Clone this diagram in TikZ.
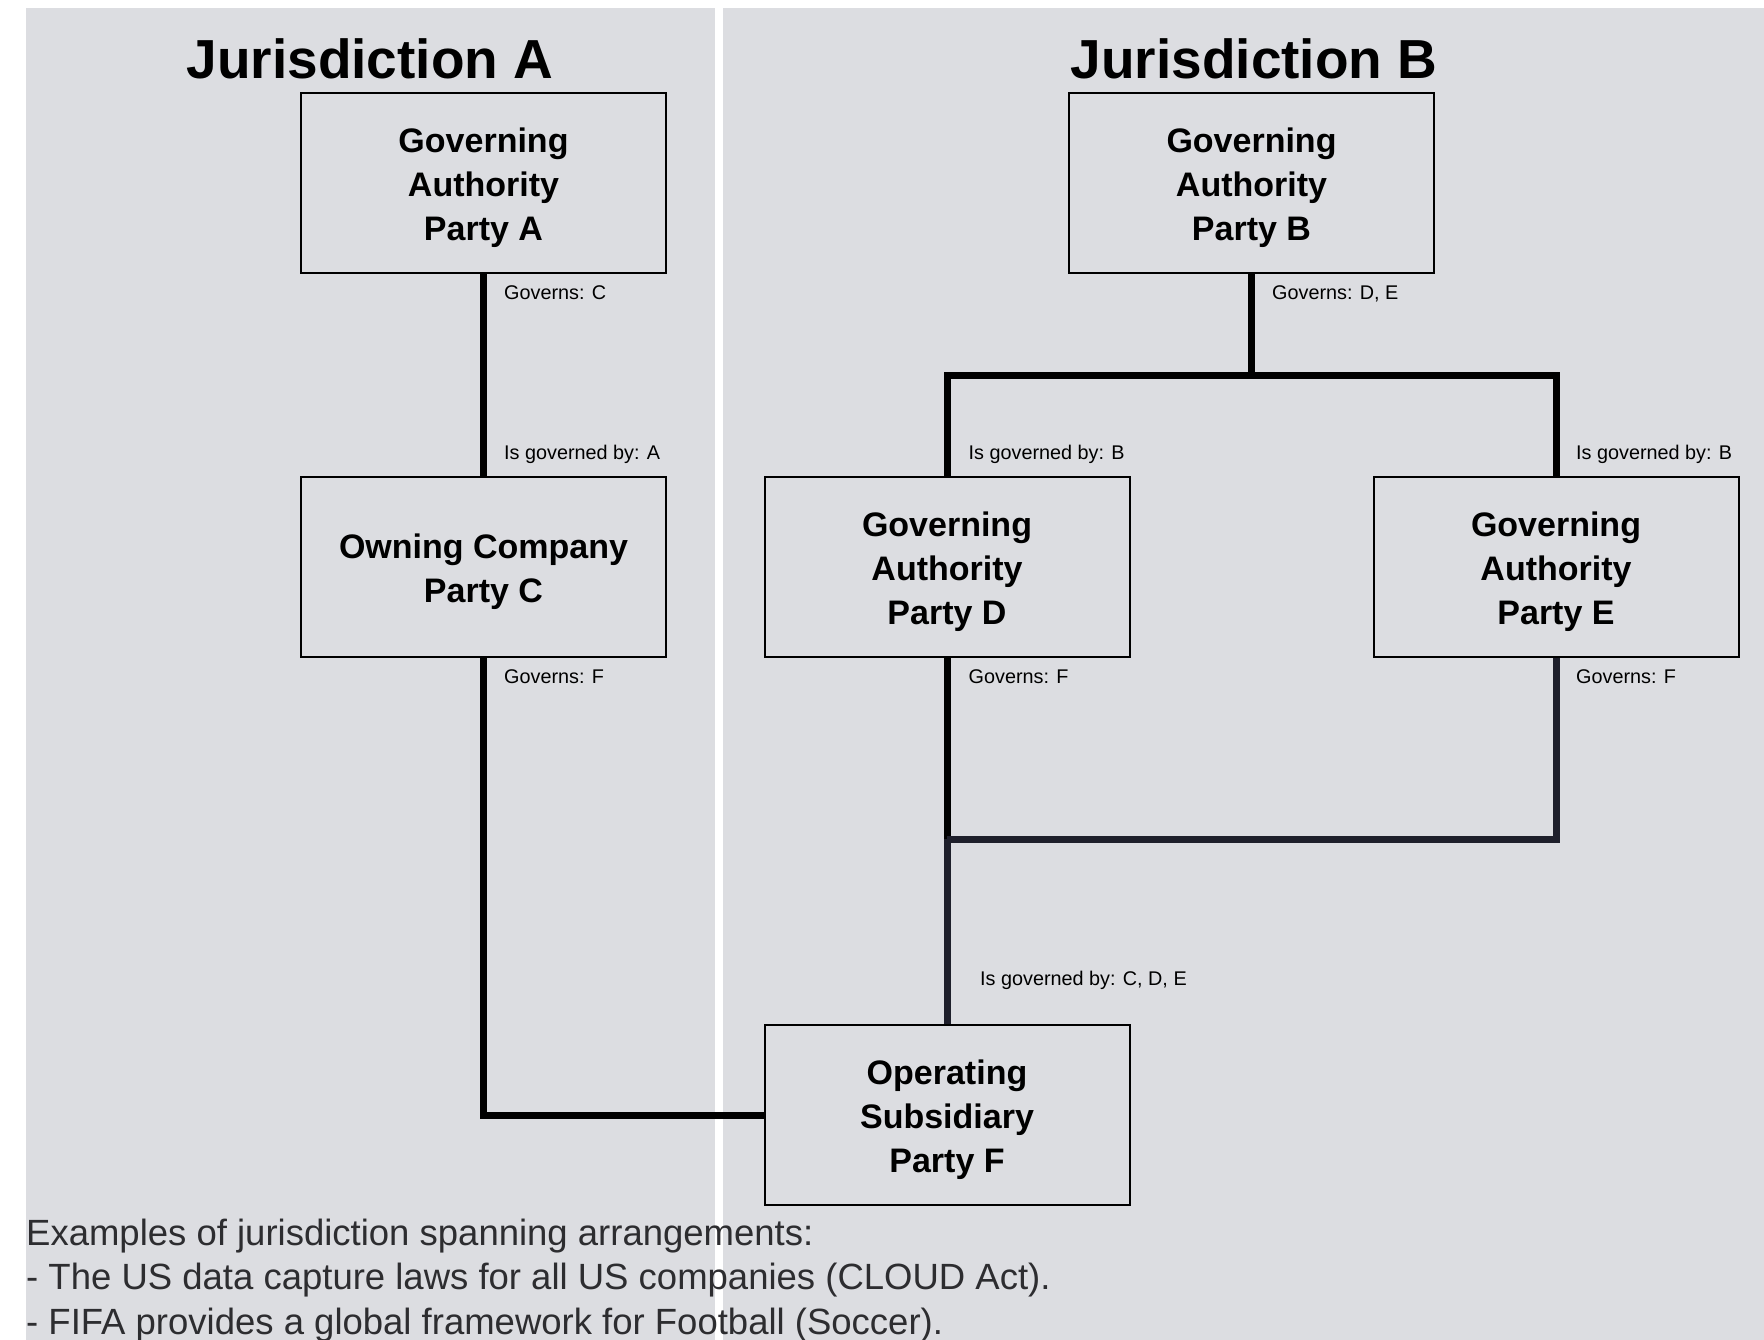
\documentclass[tikz,border=0pt]{standalone}
\usepackage{fontspec}
\setmainfont{Liberation Sans}
\definecolor{panelgray}{RGB}{220,221,225}
\definecolor{linknavy}{RGB}{30,31,43}
\definecolor{notegray}{RGB}{45,45,48}
\begin{document}
\begin{tikzpicture}[x=1pt,y=-1pt,
  panel/.style={fill=panelgray, draw=none},
  partybox/.style={draw=black, line width=2pt, minimum width=365pt, minimum height=180pt,
    inner sep=0pt},
  boxtext/.style={align=center, inner sep=0pt, font=\fontsize{34}{44}\selectfont\bfseries, text=black},
  heading/.style={font=\fontsize{55}{60}\selectfont\bfseries, anchor=base, text=black},
  rel/.style={font=\fontsize{19.8}{22}\selectfont, anchor=base west, inner sep=0pt, text=black},
  link/.style={line width=7pt, draw=black, line join=miter},
  linkdark/.style={link, draw=linknavy},
  note/.style={font=\fontsize{36.5}{44}\selectfont, anchor=base west, inner sep=0pt, text=notegray}
]
\useasboundingbox (0,0) rectangle (1764,1340);
\fill[white] (0,0) rectangle (1764,1340);

% jurisdiction panels
\fill[panel] (26,8) rectangle (715,1340);
\fill[panel] (723,8) rectangle (1764,1340);

% headings
\node[heading] (ja) at (370,79) {Jurisdiction A};
\node[heading] (jb) at (1254,79) {Jurisdiction B};

% parties
\node[partybox] (A) at (483.5,183) {};
\node[partybox] (B) at (1251.5,183) {};
\node[partybox] (C) at (483.5,567) {};
\node[partybox] (D) at (947,567) {};
\node[partybox] (E) at (1556,567) {};
\node[partybox] (F) at (947,1115) {};

% party names, set slightly below the box centres
\node[boxtext] (At) at ([yshift=-5pt]A.center) {Governing\\Authority\\Party A};
\node[boxtext] (Bt) at ([yshift=-5pt]B.center) {Governing\\Authority\\Party B};
\node[boxtext] (Ct) at ([yshift=-5pt]C.center) {Owning Company\\Party C};
\node[boxtext] (Dt) at ([yshift=-5pt]D.center) {Governing\\Authority\\Party D};
\node[boxtext] (Et) at ([yshift=-5pt]E.center) {Governing\\Authority\\Party E};
\node[boxtext] (Ft) at ([yshift=-5pt]F.center) {Operating\\Subsidiary\\Party F};

% junction points
\coordinate (bj) at (1251.5,375);
\coordinate (fj) at (947,839);

% governance links
\draw[link] (A.south) -- (C.north);
\draw[link] (B.south) -- (bj);
\draw[link] (D.north) |- (bj) -| (E.north);
\draw[link] (C.south) |- (F.west);
\draw[link] (D.south) -- (fj);
\draw[linkdark] (E.south) |- (fj);
\draw[linkdark] (fj) -- (F.north);

% relation labels
\node[rel] (la1) at (504,299.5) {Governs: C};
\node[rel] (lc1) at (504,459) {Is governed by: A};
\node[rel] (lc2) at (504,683) {Governs: F};
\node[rel] (lb1) at (1272,299.5) {Governs: D, E};
\node[rel] (ld1) at (968.5,459) {Is governed by: B};
\node[rel] (le1) at (1576,459) {Is governed by: B};
\node[rel] (ld2) at (968.5,683) {Governs: F};
\node[rel] (le2) at (1576,683) {Governs: F};
\node[rel] (lf1) at (980,985) {Is governed by: C, D, E};

% notes
\node[note] (n1) at (26,1245) {Examples of jurisdiction spanning arrangements:};
\node[note] (n2) at (26,1289.5) {- The US data capture laws for all US companies (CLOUD Act).};
\node[note] (n3) at (26,1334) {- FIFA provides a global framework for Football (Soccer).};
\end{tikzpicture}
\end{document}
